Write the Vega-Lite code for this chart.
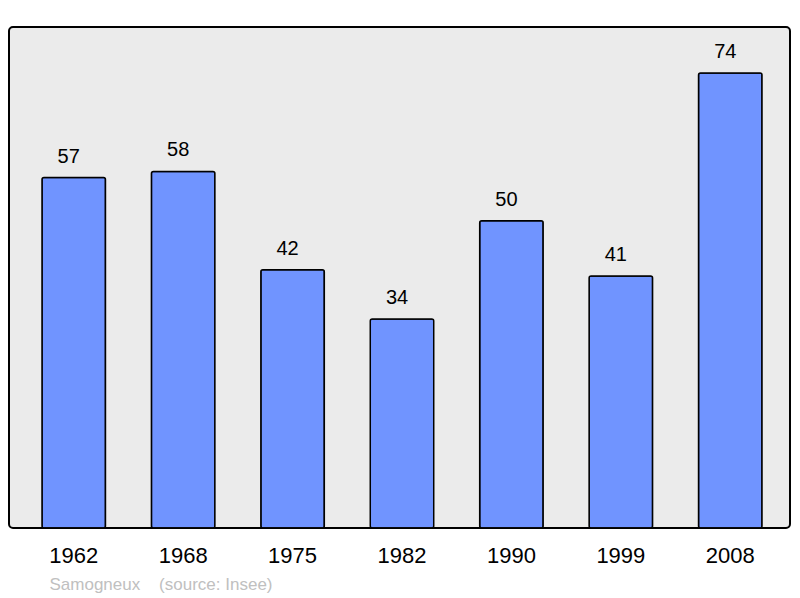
{
  "$schema": "https://vega.github.io/schema/vega-lite/v6.json",
  "autosize": "none",
  "width": 781,
  "height": 501,
  "padding": {"left": 9, "top": 27, "right": 10, "bottom": 70},
  "background": "white",
  "config": {
    "font": "Liberation Sans",
    "view": {"fill": "#ebebeb", "stroke": "black", "strokeWidth": 2, "cornerRadius": 4}
  },
  "data": {
    "values": [
      {"year": "1962", "population": 57},
      {"year": "1968", "population": 58},
      {"year": "1975", "population": 42},
      {"year": "1982", "population": 34},
      {"year": "1990", "population": 50},
      {"year": "1999", "population": 41},
      {"year": "2008", "population": 74}
    ]
  },
  "encoding": {
    "x": {
      "field": "year",
      "type": "ordinal",
      "scale": {"range": [33, 753], "paddingInner": 0.42, "paddingOuter": 0},
      "axis": {
        "title": "Samogneux\u00a0\u00a0\u00a0\u00a0(source: Insee)",
        "titleFont": "Liberation Sans",
        "titleFontSize": 17,
        "titleFontWeight": "normal",
        "titleColor": "#c0c0c0",
        "titleX": 40,
        "titleAlign": "left",
        "titleAnchor": "start",
        "titlePadding": 10,
        "labelAngle": 0,
        "labelFontSize": 22,
        "labelColor": "black",
        "labelPadding": 17,
        "ticks": false,
        "domain": false,
        "grid": false
      }
    },
    "y": {
      "field": "population",
      "type": "quantitative",
      "scale": {"domain": [0, 81.5], "nice": false, "zero": true},
      "axis": null
    }
  },
  "layer": [
    {
      "mark": {"type": "bar", "color": "#7094ff", "stroke": "black", "strokeWidth": 1.5, "cornerRadius": 2}
    },
    {
      "mark": {"type": "text", "fontSize": 20, "color": "black", "baseline": "alphabetic", "dx": -5, "dy": -15},
      "encoding": {"text": {"field": "population", "type": "quantitative"}}
    }
  ]
}
